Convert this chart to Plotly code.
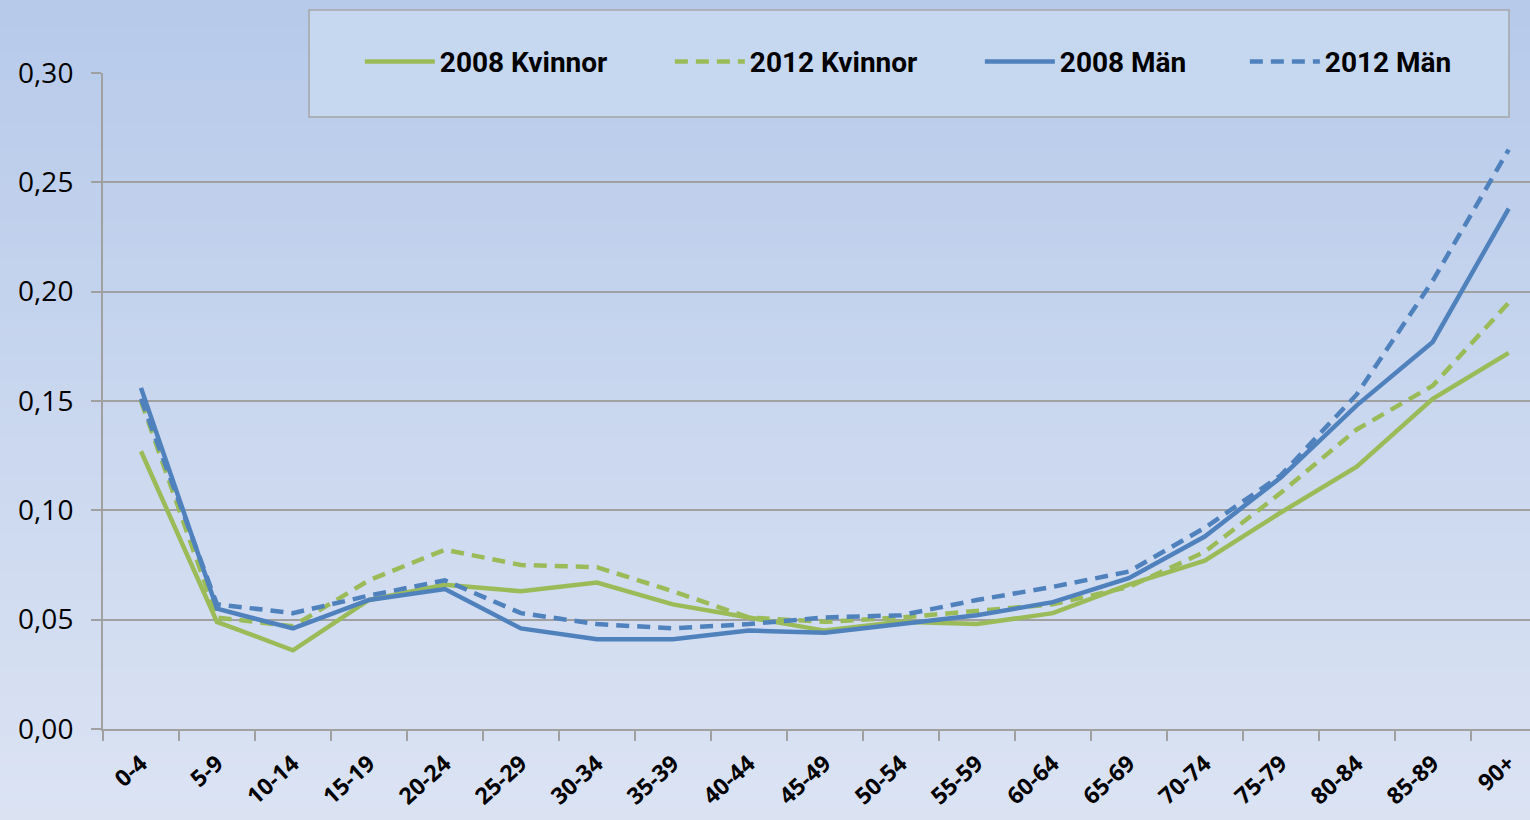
import plotly.graph_objects as go

categories = ["0-4", "5-9", "10-14", "15-19", "20-24", "25-29", "30-34", "35-39",
              "40-44", "45-49", "50-54", "55-59", "60-64", "65-69", "70-74",
              "75-79", "80-84", "85-89", "90+"]

kvinnor_2008 = [0.127, 0.049, 0.036, 0.059, 0.066, 0.063, 0.067, 0.057, 0.051, 0.045,
                0.049, 0.048, 0.053, 0.066, 0.077, 0.099, 0.120, 0.151, 0.172]
kvinnor_2012 = [0.150, 0.051, 0.047, 0.068, 0.082, 0.075, 0.074, 0.063, 0.051, 0.049,
                0.051, 0.054, 0.057, 0.065, 0.081, 0.108, 0.137, 0.157, 0.195]
man_2008 = [0.156, 0.055, 0.046, 0.059, 0.064, 0.046, 0.041, 0.041, 0.045, 0.044,
            0.048, 0.052, 0.058, 0.069, 0.088, 0.115, 0.148, 0.177, 0.238]
man_2012 = [0.151, 0.057, 0.053, 0.061, 0.068, 0.053, 0.048, 0.046, 0.048, 0.051,
            0.052, 0.059, 0.065, 0.072, 0.092, 0.116, 0.153, 0.205, 0.265]

series_names = ["2008 Kvinnor", "2012 Kvinnor", "2008 Män", "2012 Män"]

GREEN = "#9bbb59"
BLUE = "#4f81bd"

fig = go.Figure()
styles = [(kvinnor_2008, GREEN, "solid", 225), (kvinnor_2012, GREEN, "13px,8px", 225),
          (man_2008, BLUE, "solid", 180), (man_2012, BLUE, "13px,8px", 130)]
for name, (vals, col, dash, lw) in zip(series_names, styles):
    fig.add_trace(go.Scatter(x=categories, y=vals, mode="lines", name=name,
                             legendwidth=lw,
                             line=dict(color=col, width=4.5, dash=dash)))

# background gradient (page)
shapes = []
n = 60
top = (183, 202, 234)
bot = (219, 227, 243)
y_lo, y_hi = -91 / 656, 1 + 73 / 656
for i in range(n):
    t = i / (n - 1)
    c = tuple(round(top[k] + (bot[k] - top[k]) * t) for k in range(3))
    y1 = y_hi - (y_hi - y_lo) * i / n
    y0 = y_hi - (y_hi - y_lo) * (i + 1) / n
    shapes.append(dict(type="rect", xref="paper", yref="paper", x0=-0.08, x1=1.0,
                       y0=y0 - 0.002, y1=y1 + 0.002, fillcolor="rgb(%d,%d,%d)" % c,
                       line=dict(width=0), layer="below"))
# legend box
shapes.append(dict(type="rect", xref="paper", yref="paper", x0=0.1444, x1=0.9853,
                   y0=0.933, y1=1.096, fillcolor="#c6d8f0",
                   line=dict(color="#a6a6a6", width=1.5), layer="below"))

fig.update_layout(
    width=1530, height=820,
    margin=dict(l=103, r=0, t=73, b=91),
    paper_bgcolor="rgb(219,227,243)",
    plot_bgcolor="rgba(0,0,0,0)",
    separators=", ",
    shapes=shapes,
    showlegend=True,
    legend=dict(orientation="h", x=0.18, y=1.017, xanchor="left", yanchor="middle",
                bgcolor="rgba(0,0,0,0)", borderwidth=0,
                font=dict(family="Roboto, Open Sans, sans-serif",
                          size=28, color="black", weight="bold"),
                itemwidth=70, traceorder="normal"),
    xaxis=dict(type="category", range=[-0.5, 18.28], showgrid=False,
               showline=True, linecolor="#a0a0a0", linewidth=2, automargin=False,
               ticks="outside", ticklen=10, tickcolor="#a0a0a0", tickwidth=1.5,
               tickson="boundaries", tickangle=-42, ticklabelstandoff=10,
               tickfont=dict(family="Open Sans, sans-serif", size=23, color="black",
                             weight="bold")),
    yaxis=dict(range=[0, 0.30], tickvals=[0, 0.05, 0.10, 0.15, 0.20, 0.25, 0.30],
               tickformat=".2f", showgrid=True, gridcolor="#a0a0a0", gridwidth=1.5,
               showline=True, linecolor="#a0a0a0", linewidth=2, zeroline=False,
               automargin=False,
               ticks="outside", ticklen=10, tickcolor="#a0a0a0", tickwidth=1.5,
               ticklabelstandoff=12,
               tickfont=dict(family="Open Sans, sans-serif", size=28, color="black",
                             weight=500)),
)

fig.write_html("out.html", config={"displayModeBar": False},
               post_script="document.body.style.margin='0';document.body.style.overflow='hidden';")
